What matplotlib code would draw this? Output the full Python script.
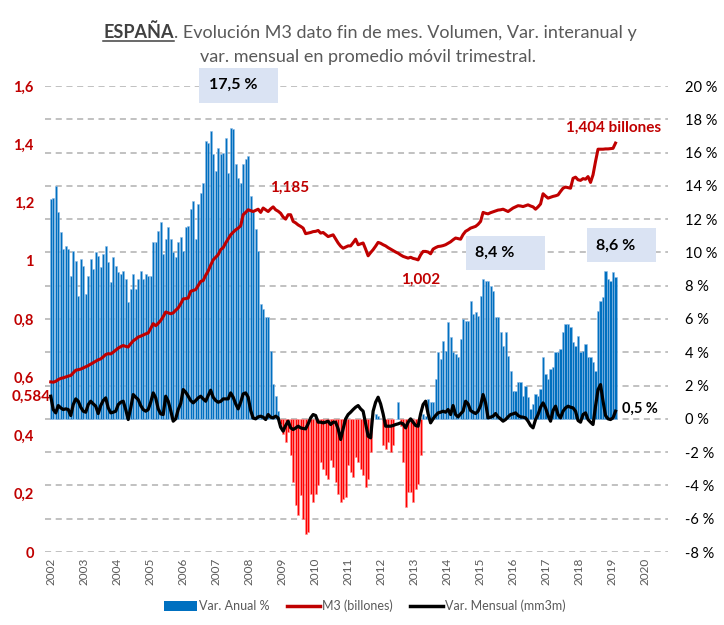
import matplotlib
matplotlib.use("Agg")
import matplotlib.pyplot as plt
from matplotlib.lines import Line2D
from matplotlib.patches import Patch, Rectangle
import numpy as np

plt.rcParams['font.family'] = ['Lato', 'DejaVu Sans']

# monthly data, Jan 2002 .. Nov 2020
var_anual = [
    13.2, 13.3, 14.0, 12.4, 11.2, 10.2, 10.4, 10.2, 8.6, 10.1, 9.5, 7.4,     # 2002
    9.6, 9.2, 7.5, 8.6, 9.6, 9.0, 10.0, 9.8, 9.1, 9.9, 10.4, 9.4,            # 2003
    8.2, 9.7, 9.2, 8.8, 8.7, 8.9, 8.4, 7.0, 7.8, 8.7, 7.8, 8.4,              # 2004
    8.9, 8.4, 8.7, 8.6, 8.6, 10.6, 10.6, 11.3, 11.8, 9.9, 10.8, 11.5,        # 2005
    10.8, 10.0, 9.7, 10.6, 10.9, 10.1, 11.5, 11.6, 12.6, 13.1, 10.8, 12.9,   # 2006
    13.6, 14.2, 16.7, 16.6, 17.3, 15.9, 14.9, 16.3, 15.9, 16.0, 16.9, 14.8,  # 2007
    17.5, 17.4, 15.3, 14.5, 14.2, 15.3, 15.6, 15.8, 13.4, 12.4, 11.4, 10.1,  # 2008
    6.9, 6.6, 6.1, 6.1, 4.1, 2.1, 1.4, 0.5, -0.3, -0.9, -1.4, -0.8,          # 2009
    -2.2, -3.8, -5.2, -5.8, -4.6, -6.0, -6.9, -6.8, -4.5, -5.0, -4.5, -4.0,  # 2010
    -2.6, -3.0, -3.4, -3.6, -2.5, -2.9, -3.8, -4.5, -5.0, -4.8, -4.7, -2.8,  # 2011
    -3.2, -3.5, -2.3, -2.6, -3.0, -3.4, -4.1, -3.6, -2.0, 0.0, 0.3, 0.2,     # 2012
    0.0, -1.6, -1.8, -1.4, -2.0, -1.6, 0.0, 1.0, -0.4, -2.6, -5.3, -4.4,     # 2013
    -4.4, -5.0, -4.2, -3.9, -2.2, 0.3, 0.2, 1.2, 1.0, 1.0, 2.4, 4.0,         # 2014
    3.6, 4.7, 4.1, 5.8, 4.9, 4.0, 3.9, 3.7, 4.8, 6.0, 5.9, 5.9,              # 2015
    7.1, 6.3, 6.4, 6.2, 7.4, 8.4, 8.3, 8.3, 8.0, 7.7, 6.1, 6.1,              # 2016
    5.2, 4.4, 5.2, 3.8, 2.9, 1.7, 1.7, 2.2, 2.2, 1.4, 2.0, 1.3,              # 2017
    0.6, 0.9, 1.5, 1.4, 1.8, 3.7, 2.7, 2.4, 3.0, 3.1, 4.0, 4.0,              # 2018
    4.2, 5.2, 5.7, 5.7, 5.5, 4.6, 4.4, 5.0, 4.0, 4.1, 4.5, 3.7,              # 2019
    3.7, 3.4, 2.9, 6.5, 7.1, 7.3, 8.9, 8.4, 8.3, 8.8, 8.5,                   # 2020
]

m3_billones = [
    0.584, 0.583, 0.586, 0.592, 0.596, 0.598, 0.601, 0.604, 0.606, 0.615, 0.624, 0.626,
    0.628, 0.632, 0.636, 0.640, 0.645, 0.650, 0.655, 0.660, 0.663, 0.670, 0.678, 0.681,
    0.680, 0.686, 0.693, 0.700, 0.705, 0.709, 0.706, 0.704, 0.715, 0.725, 0.731, 0.738,
    0.741, 0.745, 0.749, 0.752, 0.768, 0.784, 0.777, 0.785, 0.795, 0.808, 0.824, 0.821,
    0.818, 0.821, 0.830, 0.838, 0.852, 0.869, 0.870, 0.872, 0.895, 0.898, 0.901, 0.915,
    0.929, 0.932, 0.950, 0.965, 0.985, 1.003, 1.012, 1.021, 1.038, 1.045, 1.061, 1.075,
    1.089, 1.098, 1.106, 1.112, 1.120, 1.158, 1.166, 1.175, 1.172, 1.169, 1.173, 1.177,
    1.166, 1.181, 1.175, 1.169, 1.178, 1.185, 1.175, 1.170, 1.163, 1.150, 1.143, 1.158,
    1.158, 1.135, 1.130, 1.123, 1.118, 1.112, 1.093, 1.095, 1.097, 1.100, 1.101, 1.104,
    1.095, 1.097, 1.090, 1.083, 1.086, 1.089, 1.075, 1.061, 1.050, 1.043, 1.047, 1.051,
    1.051, 1.062, 1.074, 1.055, 1.058, 1.061, 1.040, 1.017, 1.028, 1.038, 1.050, 1.063,
    1.060, 1.055, 1.051, 1.045, 1.040, 1.035, 1.030, 1.026, 1.020, 1.015, 1.012, 1.009,
    1.012, 1.008, 1.006, 1.003, 1.020, 1.032, 1.032, 1.030, 1.024, 1.040, 1.045, 1.049,
    1.050, 1.052, 1.055, 1.060, 1.065, 1.072, 1.078, 1.076, 1.074, 1.090, 1.101, 1.106,
    1.112, 1.115, 1.118, 1.125, 1.135, 1.166, 1.163, 1.161, 1.165, 1.168, 1.171, 1.174,
    1.175, 1.177, 1.173, 1.169, 1.175, 1.181, 1.185, 1.189, 1.188, 1.186, 1.189, 1.192,
    1.188, 1.185, 1.177, 1.185, 1.195, 1.230, 1.222, 1.215, 1.218, 1.221, 1.223, 1.226,
    1.238, 1.249, 1.253, 1.251, 1.249, 1.283, 1.287, 1.278, 1.276, 1.282, 1.280, 1.289,
    1.269, 1.295, 1.341, 1.383, 1.383, 1.383, 1.384, 1.384, 1.385, 1.386, 1.404,
]

var_mensual = [
    1.36, 0.56, 0.36, 0.80, 0.66, 0.56, 0.60, 0.56, 0.20, 0.86, 1.20, 1.06,
    0.70, 0.46, 0.40, 0.86, 1.06, 0.90, 0.76, 0.32, 0.80, 1.10, 1.26, 0.66,
    0.36, 0.40, 0.46, 0.86, 1.00, 1.06, 0.56, -0.04, 0.66, 1.46, 1.30, 1.16,
    0.80, 0.56, 0.46, 0.56, 1.00, 1.56, 1.26, 0.60, 0.30, 0.26, 1.36, 1.06,
    0.50, -0.14, 0.00, 0.56, 0.92, 1.76, 1.60, 1.36, 1.10, 0.96, 1.10, 1.26,
    1.36, 1.20, 1.06, 1.40, 1.72, 1.30, 1.10, 1.00, 1.05, 1.20, 1.20, 1.20,
    1.56, 1.30, 0.90, 0.60, 1.00, 1.50, 1.56, 1.30, 0.50, 0.05, 0.00, 0.12,
    0.16, 0.10, -0.04, 0.26, 0.10, 0.06, 0.16, 0.06, -0.50, -0.74, -0.40, -0.14,
    -0.54, -0.64, -0.55, -0.44, -0.54, -0.58, -0.60, -0.30, 0.06, 0.26, 0.20, -0.20,
    -0.20, -0.24, -0.20, -0.14, -0.34, -0.20, -0.20, -0.60, -1.24, -0.60, 0.00, 0.26,
    0.40, 0.56, 0.70, 0.80, 0.60, 0.46, -0.30, -1.04, -1.14, 0.46, 1.00, 1.30,
    0.90, 0.30, -0.44, -0.44, -0.44, -0.40, -0.34, -0.30, -0.24, -0.30, -0.54, -0.20,
    0.00, -0.20, -0.40, -0.44, 0.30, 0.86, 1.06, 0.30, -0.24, 0.00, 0.20, 0.36,
    0.40, 0.46, 0.40, 0.56, 0.26, 0.80, 0.26, 0.12, 0.30, 0.46, 1.06, 0.90,
    0.50, 0.40, 0.32, 0.46, 0.80, 1.46, 0.96, 0.06, 0.10, 0.16, 0.32, 0.12,
    0.00, -0.14, -0.04, 0.12, 0.26, 0.30, 0.36, 0.20, 0.12, 0.10, 0.06, -0.14,
    -0.40, -0.54, -0.04, 0.26, 0.70, 0.96, 0.66, 0.20, -0.14, 0.50, 0.76, 0.26,
    0.06, 0.46, 0.66, 0.76, 0.70, 0.66, 0.46, -0.10, -0.20, 0.26, 0.36, -0.04,
    -0.20, -0.34, 0.76, 1.76, 2.06, 1.06, 0.20, 0.00, -0.04, 0.06, 0.46,
]

year_labels = [str(y) for y in range(2002, 2021)]
pct_ticks = list(range(-8, 21, 2))
m3_ticks = [0, 0.2, 0.4, 0.6, 0.8, 1.0, 1.2, 1.4, 1.6]

RED = '#C00000'
GREY = '#595959'

fig = plt.figure(figsize=(7.24, 6.25), dpi=100)
W, H = 724, 625
ax = fig.add_axes([45 / W, 1 - 552 / H, (668 - 45) / W, (552 - 86) / H])
ax2 = ax.twinx()

x = np.arange(len(var_anual))
va = np.array(var_anual)
bar_cols = np.where(va >= 0, '#0070C0', '#FF0000')
edge_cols = np.where(va >= 0, '#8FBCE6', '#FF9090')
ax.bar(x, va, width=0.85, color=bar_cols, edgecolor=edge_cols, linewidth=0.4, zorder=2)
ax.plot(x, var_mensual, color='black', lw=2.3, zorder=4, solid_joinstyle='round')

ax.set_ylim(-8, 20)
ax.set_xlim(-2.3, 247)
ax.set_yticks(pct_ticks)
ax.set_yticklabels([f"{t} %" for t in pct_ticks], fontsize=10.5, color='black')
ax.grid(axis='y', color='#B0B0B0', linestyle=(0, (4, 3)), lw=1.1, zorder=0)
ax.set_xticks(np.linspace(0.1, 237.7, len(year_labels)))
ax.set_xticklabels(year_labels, rotation=90, fontsize=8.5, color=GREY)
ax.tick_params(axis='x', length=0, pad=4)

ax2.plot(x, m3_billones, color=RED, lw=2.2, zorder=3, solid_joinstyle='round')
ax2.set_ylim(0, 1.6)
ax2.set_yticks(m3_ticks)
ax2.set_yticklabels([f"{t:g}".replace('.', ',') for t in m3_ticks],
                    fontsize=10.5, color=RED, fontweight='bold')

# percentage scale on the right, M3 scale on the left
ax.yaxis.tick_right()
ax.tick_params(axis='y', length=0, pad=12)
ax2.yaxis.tick_left()
ax2.tick_params(axis='y', length=0, pad=8)
for a in (ax, ax2):
    for s in a.spines.values():
        s.set_visible(False)

# value labels
ax.text(95.7, 13.9, "1,185", color=RED, fontsize=11, fontweight='bold', ha='center', va='center')
ax.text(148, 8.35, "1,002", color=RED, fontsize=11, fontweight='bold', ha='center', va='center')
ax.text(225.3, 17.5, "1,404 billones", color=RED, fontsize=11, fontweight='bold', ha='center', va='center')
ax.text(0.1, 1.35, "0,584", color=RED, fontsize=11, fontweight='bold', ha='right', va='center', clip_on=False)
ax.text(228.5, 0.6, "0,5 %", color='black', fontsize=10.5, fontweight='bold', ha='left', va='center')

# highlighted boxes
boxes = [(59.3, 19.0, 31.6, 2.1, "17,5 %", 73.0),
         (166.0, 8.95, 31.7, 2.05, "8,4 %", 177.8),
         (214.5, 9.4, 27.5, 2.05, "8,6 %", 226.0)]
for bx, by, bw, bh, txt, tx in boxes:
    ax.add_patch(Rectangle((bx, by), bw, bh, facecolor='#DAE3F3', edgecolor='none',
                           zorder=5, clip_on=False))
    ax.text(tx, by + bh / 2, txt, fontsize=11.5, fontweight='bold', ha='center',
            va='center', zorder=6)

# title: bold underlined country + regular text
r = fig.canvas.get_renderer()
part1 = "ESPAÑA"
part2 = ". Evolución M3 dato fin de mes. Volumen, Var. interanual y"
t1 = fig.text(0, 1 - 38 / H, part1, fontsize=13, fontweight='bold', color='#404040', va='baseline')
t2 = fig.text(0, 1 - 38 / H, part2, fontsize=13, color=GREY, va='baseline')
w1 = t1.get_window_extent(r).width
w2 = t2.get_window_extent(r).width
x0 = 370 - (w1 + w2) / 2
t1.set_x(x0 / W)
t2.set_x((x0 + w1) / W)
fig.add_artist(Line2D([x0 / W, (x0 + w1) / W], [1 - 41 / H, 1 - 41 / H], color='#404040', lw=1.1))
fig.text(368 / W, 1 - 62 / H, "var. mensual en promedio móvil trimestral.", fontsize=13,
         color=GREY, ha='center', va='baseline')

handles = [Patch(facecolor='#0070C0', edgecolor='none'),
           Line2D([], [], color=RED, lw=2.5),
           Line2D([], [], color='black', lw=2.5)]
fig.legend(handles, ["Var. Anual %", "M3 (billones)", "Var. Mensual (mm3m)"],
           loc='center', bbox_to_anchor=(365 / W, 1 - 606 / H), ncol=3, frameon=False,
           fontsize=9, labelcolor=GREY, handlelength=2.6, handleheight=0.9,
           handletextpad=0.2, columnspacing=1.4)

fig.savefig("out.png", dpi=100)
